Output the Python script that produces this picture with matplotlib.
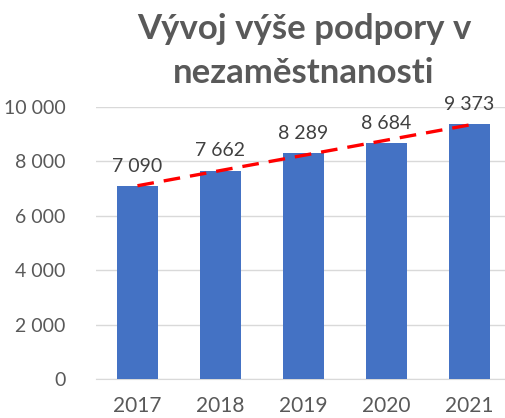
import numpy as np
import matplotlib.pyplot as plt
from matplotlib.ticker import FuncFormatter

roky = ['2017', '2018', '2019', '2020', '2021']
podpora = [7090, 7662, 8289, 8684, 9373]
titulek = ['Vývoj výše podpory v', 'nezaměstnanosti']

plt.rcParams['font.family'] = ['Lato', 'DejaVu Sans']

fig = plt.figure(figsize=(5.05, 4.18), dpi=100)
ax = fig.add_axes([0.19, 0.0933, 0.822, 0.651])

x = np.arange(len(roky))
ax.bar(x, podpora, width=0.5, color='#4472C4', zorder=3)

# linearni trend
k, q = np.polyfit(x, podpora, 1)
ax.plot(x, k * x + q, color='#FF0000', lw=2.4, ls=(0, (5, 3)), zorder=4)

for xi, v in zip(x, podpora):
    ax.annotate(f'{v:,}'.replace(',', ' '), (xi, v), xytext=(0, 8),
                textcoords='offset points', ha='center', va='bottom',
                fontsize=14, color='#404040')

ax.set_xlim(-0.5, 4.5)
ax.set_ylim(0, 10000)
ax.set_yticks(range(0, 10001, 2000))
ax.yaxis.set_major_formatter(FuncFormatter(lambda v, p: f'{int(v):,}'.replace(',', ' ')))
ax.set_xticks(x)
ax.set_xticklabels(roky)
ax.tick_params(length=0, labelsize=14, labelcolor='#595959')
ax.tick_params(axis='y', pad=22)
ax.tick_params(axis='x', pad=12)
ax.tick_params(axis='x', labelsize=15)
ax.grid(axis='y', color='#D9D9D9', lw=1, zorder=0)
for s in ['top', 'right', 'left']:
    ax.spines[s].set_visible(False)
ax.spines['bottom'].set_color('#D9D9D9')

for radek, yy in zip(titulek, [0.9067, 0.8014]):
    fig.text(0.602, yy, radek, ha='center', va='baseline',
             fontsize=25, fontweight='bold', color='#595959')

fig.savefig('out.png', dpi=100)
